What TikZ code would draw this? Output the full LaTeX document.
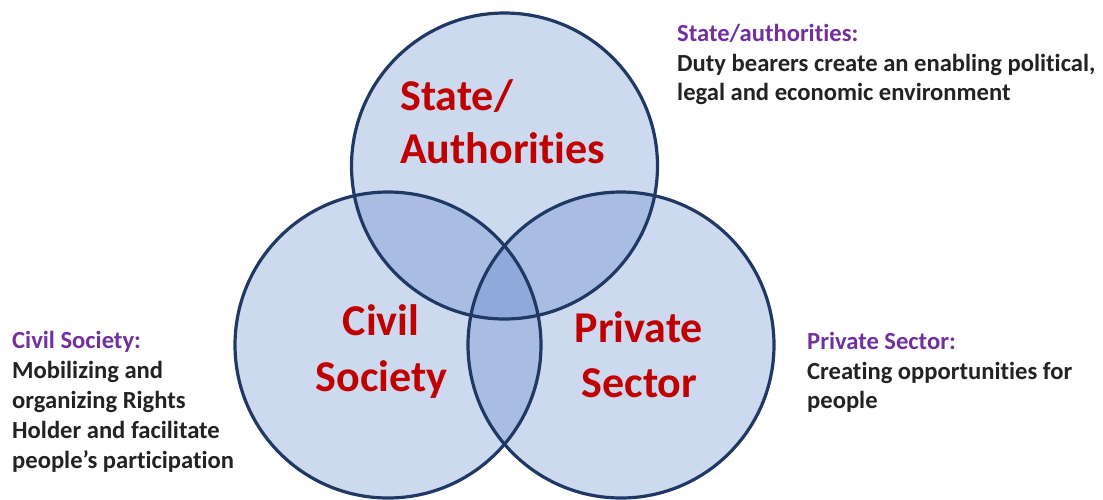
\documentclass[tikz,border=0pt]{standalone}
\usepackage{fontspec}
\setmainfont{Carlito}[Ligatures=NoCommon]
\definecolor{cone}{HTML}{CDD9EE}
\definecolor{ctwo}{HTML}{A9BDE2}
\definecolor{cthree}{HTML}{8FAADA}
\definecolor{cline}{HTML}{1F3864}
\definecolor{cred}{HTML}{C00000}
\definecolor{cpurple}{HTML}{7030A0}
\definecolor{cblack}{HTML}{222222}
\tikzset{
  bigtxt/.style={inner sep=0pt, text=cred, font=\fontsize{44}{52}\selectfont\bfseries},
  headtxt/.style={inner sep=0pt, anchor=base west, text=cpurple, font=\fontsize{24.6}{29}\selectfont\bfseries},
  bodytxt/.style={inner sep=0pt, anchor=base west, text=cblack, font=\fontsize{24.6}{29}\selectfont\bfseries},
  ring/.style={draw=cline, line width=3.2pt}
}
\begin{document}
\begin{tikzpicture}[x=1pt,y=-1pt]
\useasboundingbox (0,0) rectangle (1103,499);
\def\rr{153}
\coordinate (ct) at (504.5,166);
\coordinate (cl) at (388,345);
\coordinate (cr) at (621,345);
% fills
\fill[cone] (ct) circle[radius=\rr];
\fill[cone] (cl) circle[radius=\rr];
\fill[cone] (cr) circle[radius=\rr];
\begin{scope}
  \clip (ct) circle[radius=\rr];
  \fill[ctwo] (cl) circle[radius=\rr];
  \fill[ctwo] (cr) circle[radius=\rr];
\end{scope}
\begin{scope}
  \clip (cl) circle[radius=\rr];
  \fill[ctwo] (cr) circle[radius=\rr];
\end{scope}
\begin{scope}
  \clip (ct) circle[radius=\rr];
  \clip (cl) circle[radius=\rr];
  \fill[cthree] (cr) circle[radius=\rr];
\end{scope}
% outlines
\draw[ring] (ct) circle[radius=\rr];
\draw[ring] (cl) circle[radius=\rr];
\draw[ring] (cr) circle[radius=\rr];
% big labels
\node[bigtxt, anchor=base west] (st1) at (400,110) {State/};
\node[bigtxt, anchor=base west] (st2) at (400,163) {Authorities};
\node[bigtxt, anchor=base] (cs1) at (381,335) {Civil};
\node[bigtxt, anchor=base] (cs2) at (381.5,391.5) {Society};
\node[bigtxt, anchor=base] (ps1) at (639,342.7) {Private};
\node[bigtxt, anchor=base] (ps2) at (639.5,397.5) {Sector};
% side texts
\node[headtxt] (sah) at (677,41) {State/authorities:};
\node[bodytxt] (sa1) at (677,71) {Duty bearers create an enabling political,};
\node[bodytxt] (sa2) at (677,100) {legal and economic environment};
\node[headtxt] (csh) at (12,348) {Civil Society:};
\node[bodytxt] (cst1) at (12,378.5) {Mobilizing and};
\node[bodytxt] (cst2) at (12,408.5) {organizing Rights};
\node[bodytxt] (cst3) at (12,438.5) {Holder and facilitate};
\node[bodytxt] (cst4) at (12,468) {people’s participation};
\node[headtxt] (psh) at (807,349.5) {Private Sector:};
\node[bodytxt] (pst1) at (807,379) {Creating opportunities for};
\node[bodytxt] (pst2) at (807,408.5) {people};
\end{tikzpicture}
\end{document}
